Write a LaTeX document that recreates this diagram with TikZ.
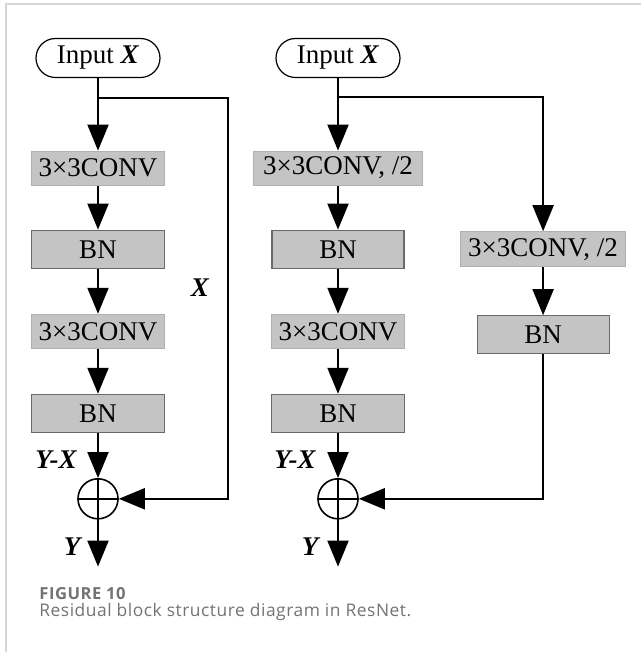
\documentclass[tikz,border=0pt]{standalone}
\usepackage{fontspec}
\setmainfont{Liberation Serif}
\newfontfamily\capfont[LetterSpace=3]{Open Sans}
\usetikzlibrary{positioning, arrows.meta, calc}
\definecolor{resfill}{HTML}{C4C4C4}
\definecolor{resedge}{HTML}{6A6A6A}
\definecolor{resframe}{HTML}{D6D6D6}
\definecolor{rescap}{HTML}{737373}

\begin{document}
\begin{tikzpicture}[
  x=0.5pt, y=-0.5pt,
  inbox/.style={
    draw, line width=0.6pt, rounded corners=9.75pt,
    minimum width=62pt, minimum height=19.5pt, inner sep=0pt,
    font=\fontsize{13.5}{16}\selectfont
  },
  convbox/.style={
    draw=resfill!90!black, fill=resfill, line width=0.5pt,
    minimum height=17pt, inner sep=0pt,
    font=\fontsize{13.5}{16}\selectfont
  },
  bnbox/.style={
    draw=resedge, fill=resfill, line width=0.6pt,
    minimum width=66.5pt, minimum height=19pt, inner sep=0pt,
    font=\fontsize{13.5}{16}\selectfont
  },
  sumnode/.style={circle, draw, line width=0.8pt, minimum size=20pt, inner sep=0pt},
  arrow/.style={-{Triangle[length=13pt, width=10.5pt]}, line width=1pt},
  lbl/.style={font=\fontsize{13.5}{16}\selectfont\bfseries\itshape},
]
\useasboundingbox (0,0) rectangle (641,652);
\draw[resframe, line width=1pt] (6,652) -- (6,4) -- (641,4);

\node[inbox] (in1) at (98,58) {Input \textbf{\textit{X}}};
\node[convbox, minimum width=66.5pt, below=36.25pt of in1] (conv1) {3×3CONV};
\node[bnbox, below=22pt of conv1] (bn1) {BN};
\node[convbox, minimum width=66.5pt, below=22.5pt of bn1] (conv2) {3×3CONV};
\node[bnbox, below=22.5pt of conv2] (bn2) {BN};
\node[sumnode, below=22.5pt of bn2] (sum1) {};
\coordinate[below=9.75pt of in1] (split1);
\coordinate[right=65pt of split1] (turn1);
\coordinate[below=23.5pt of sum1] (out1);

\node[inbox] (in2) at (338,58) {Input \textbf{\textit{X}}};
\node[convbox, minimum width=84.5pt, below=36.25pt of in2] (conv3) {3×3CONV, /2};
\node[bnbox, minimum width=66pt, below=22pt of conv3] (bn3) {BN};
\node[convbox, minimum width=66.5pt, below=22.5pt of bn3] (conv4) {3×3CONV};
\node[bnbox, below=22.5pt of conv4] (bn4) {BN};
\node[sumnode, below=22.5pt of bn4] (sum2) {};
\node[convbox, minimum width=82.5pt, minimum height=17.5pt, right=27.75pt of bn3] (conv5) {3×3CONV, /2};
\node[bnbox, minimum width=66pt, below=24pt of conv5] (bn5) {BN};
\coordinate[below=9.5pt of in2] (split2);
\coordinate[below=23.5pt of sum2] (out2);

\draw[line width=1pt] (in1) -- (split1);
\draw[arrow] (split1) -- (conv1);
\draw[arrow] (conv1) -- (bn1);
\draw[arrow] (bn1) -- (conv2);
\draw[arrow] (conv2) -- (bn2);
\draw[arrow] (bn2) -- (sum1);
\draw[arrow] (sum1) -- (out1);
\draw[arrow] (split1) -- (turn1) |- (sum1.east);
\draw[line width=0.8pt] (sum1.north) -- (sum1.south) (sum1.west) -- (sum1.east);

\draw[line width=1pt] (in2) -- (split2);
\draw[arrow] (split2) -- (conv3);
\draw[arrow] (conv3) -- (bn3);
\draw[arrow] (bn3) -- (conv4);
\draw[arrow] (conv4) -- (bn4);
\draw[arrow] (bn4) -- (sum2);
\draw[arrow] (sum2) -- (out2);
\draw[arrow] (split2) -| (conv5);
\draw[arrow] (conv5) -- (bn5);
\draw[arrow] (bn5) |- (sum2.east);
\draw[line width=0.8pt] (sum2.north) -- (sum2.south) (sum2.west) -- (sum2.east);

\node[lbl] (xlbl) at (200,288) {X};
\node[lbl] (yx1) at (56,460) {Y-X};
\node[lbl] (y1) at (72,547) {Y};
\node[lbl] (yx2) at (295,460) {Y-X};
\node[lbl] (y2) at (310,547) {Y};

\node[anchor=base west, inner sep=0pt, text=rescap, font=\capfont\fontsize{8.3}{10}\selectfont\bfseries] (figno) at (39,599) {FIGURE 10};
\node[anchor=base west, inner sep=0pt, text=rescap, font=\capfont\fontsize{8.7}{10}\selectfont] (figcap) at (39,616) {Residual block structure diagram in ResNet.};
\end{tikzpicture}
\end{document}
